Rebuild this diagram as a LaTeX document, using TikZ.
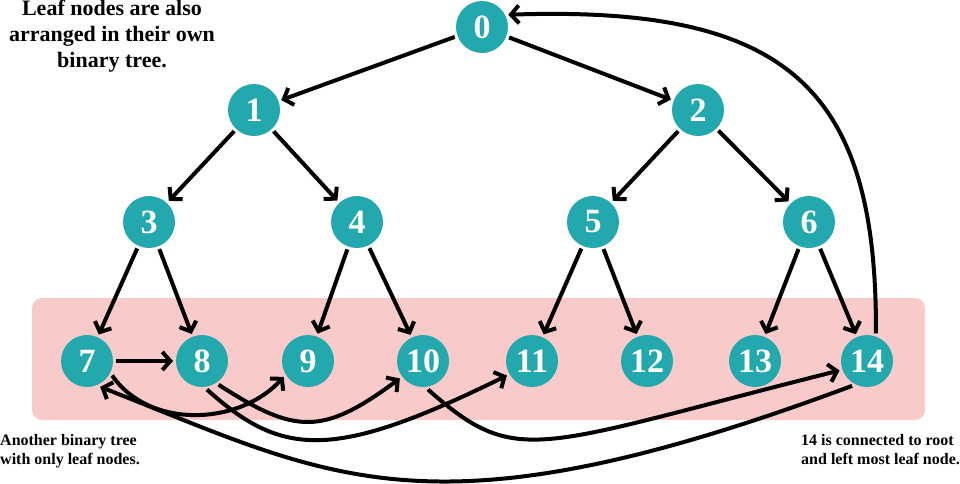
\documentclass[tikz,border=0pt]{standalone}
\usepackage{fontspec}
\setmainfont{Liberation Serif}[BoldFont={Liberation Serif Bold}]
\newfontfamily\labfont{Liberation Serif Bold}
\usetikzlibrary{arrows.meta}
\definecolor{teal1}{RGB}{35,168,174}
\definecolor{pinkbg}{RGB}{249,202,202}
\tikzset{
  tnode/.style={circle,fill=teal1,minimum size=52pt,inner sep=0pt,outer sep=3pt,
    text=white,font=\labfont\fontsize{34}{34}\selectfont},
  arr/.style={line width=4pt,-{Straight Barb[length=8pt,width=18pt]}},
  lbl/.style={inner sep=0pt}
}
\begin{document}
\begin{tikzpicture}[x=1pt,y=-1pt]
\useasboundingbox (0,0) rectangle (960,483);
\fill[white] (0,0) rectangle (960,483);
\fill[pinkbg,rounded corners=10pt] (32,298) rectangle (925,420);

\node[tnode] (n0) at (482,27) {0};
\node[tnode] (n1) at (254,110) {1};
\node[tnode] (n2) at (698,110) {2};
\node[tnode] (n3) at (149,222) {3};
\node[tnode] (n4) at (357,222) {4};
\node[tnode] (n5) at (593,222) {5};
\node[tnode] (n6) at (809,222) {6};
\node[tnode] (n7) at (87,361) {7};
\node[tnode] (n8) at (202,361) {8};
\node[tnode] (n9) at (308,361) {9};
\node[tnode] (n10) at (423,361) {10};
\node[tnode] (n11) at (532,361) {11};
\node[tnode] (n12) at (647,361) {12};
\node[tnode] (n13) at (755,361) {13};
\node[tnode] (n14) at (867,361) {14};

\draw[arr] (n0) -- (n1);
\draw[arr] (n0) -- (n2);
\draw[arr] (n1) -- (n3);
\draw[arr] (n1) -- (n4);
\draw[arr] (n2) -- (n5);
\draw[arr] (n2) -- (n6);
\draw[arr] (n3) -- (n7);
\draw[arr] (n3) -- (n8);
\draw[arr] (n4) -- (n9);
\draw[arr] (n4) -- (n10);
\draw[arr] (n5) -- (n11);
\draw[arr] (n5) -- (n12);
\draw[arr] (n6) -- (n13);
\draw[arr] (n6) -- (n14);
\draw[arr] (n7) -- (n8);

\draw[arr] (n7.-30) .. controls (150,430) and (240,425) .. (n9.-147);
\draw[arr] (n8.-55) .. controls (295,434) and (322,436) .. (n10.-143);
\draw[arr] (n8.-80) .. controls (282,457) and (333,461) .. (n11.-150);
\draw[arr] (n10.-80) .. controls (518,469) and (535,447) .. (n14.-161);
\draw[arr] (n14.-121) .. controls (428,544) and (333,478) .. (n7.-63);
\draw[arr] (n14.72) .. controls (877,90) and (790,5) .. (n0.25);

\node[lbl,align=center,anchor=north,font=\labfont\fontsize{22}{26}\selectfont] (t1) at (112,0)
  {Leaf nodes are also\\arranged in their own\\binary tree.};
\node[lbl,align=left,anchor=north west,font=\labfont\fontsize{16}{19}\selectfont] (t2) at (0,434)
  {Another binary tree\\with only leaf nodes.};
\node[lbl,align=left,anchor=north west,font=\labfont\fontsize{16}{19}\selectfont] (t3) at (801,434)
  {14 is connected to root\\and left most leaf node.};
\end{tikzpicture}
\end{document}
